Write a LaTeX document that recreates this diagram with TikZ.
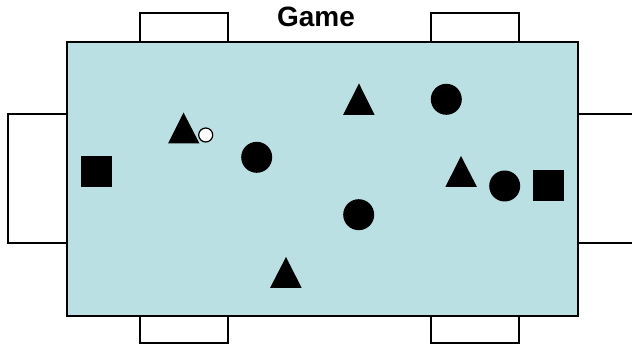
\documentclass[tikz,border=0pt]{standalone}
\usepackage{fontspec}
\setmainfont{Liberation Sans}
\definecolor{tablefill}{RGB}{187,224,227}
\tikzset{
  chair/.style={draw=black, line width=2pt, fill=white},
  tablebox/.style={draw=black, line width=2pt, fill=tablefill},
  piece/.style={fill=black, draw=none},
  disc/.style={circle, fill=black, inner sep=0pt, minimum size=31pt},
  block/.style={rectangle, fill=black, inner sep=0pt, minimum size=31pt},
  ball/.style={circle, draw=black, line width=1.2pt, fill=white, inner sep=0pt, minimum size=14pt}
}
\begin{document}
\begin{tikzpicture}[x=1pt,y=-1pt]
\useasboundingbox (0,0) rectangle (632,344);
\clip (0,0) rectangle (632,344);
% chairs
\draw[chair] (140,13) rectangle (228,42);
\draw[chair] (431,13) rectangle (519,42);
\draw[chair] (140,316) rectangle (228,343);
\draw[chair] (431,316) rectangle (519,343);
\draw[chair] (8,114) rectangle (67,243);
\draw[chair] (578,114) rectangle (645,243);
% table
\draw[tablebox] (67,42) rectangle (578,316);
% title
\node[anchor=base, font=\bfseries\fontsize{28}{30}\selectfont] (title) at (316,27) {Game};
% squares
\node[block] (sqL) at (96.5,171.5) {};
\node[block] (sqR) at (548.5,185.5) {};
% circles
\node[disc] (c1) at (256.7,157.3) {};
\node[disc] (c2) at (446.3,99.3) {};
\node[disc] (c3) at (504.7,186) {};
\node[disc] (c4) at (358.7,214.7) {};
% triangles
\fill[piece] (183.5,112.5) -- (199.5,143.5) -- (168,143.5) -- cycle;
\fill[piece] (359,83.5) -- (374.7,115) -- (343,115) -- cycle;
\fill[piece] (461,156) -- (477,187) -- (445.3,187) -- cycle;
\fill[piece] (286,257) -- (301.7,288) -- (270,288) -- cycle;
% small ball
\node[ball] (b) at (205.7,135) {};
\end{tikzpicture}
\end{document}
